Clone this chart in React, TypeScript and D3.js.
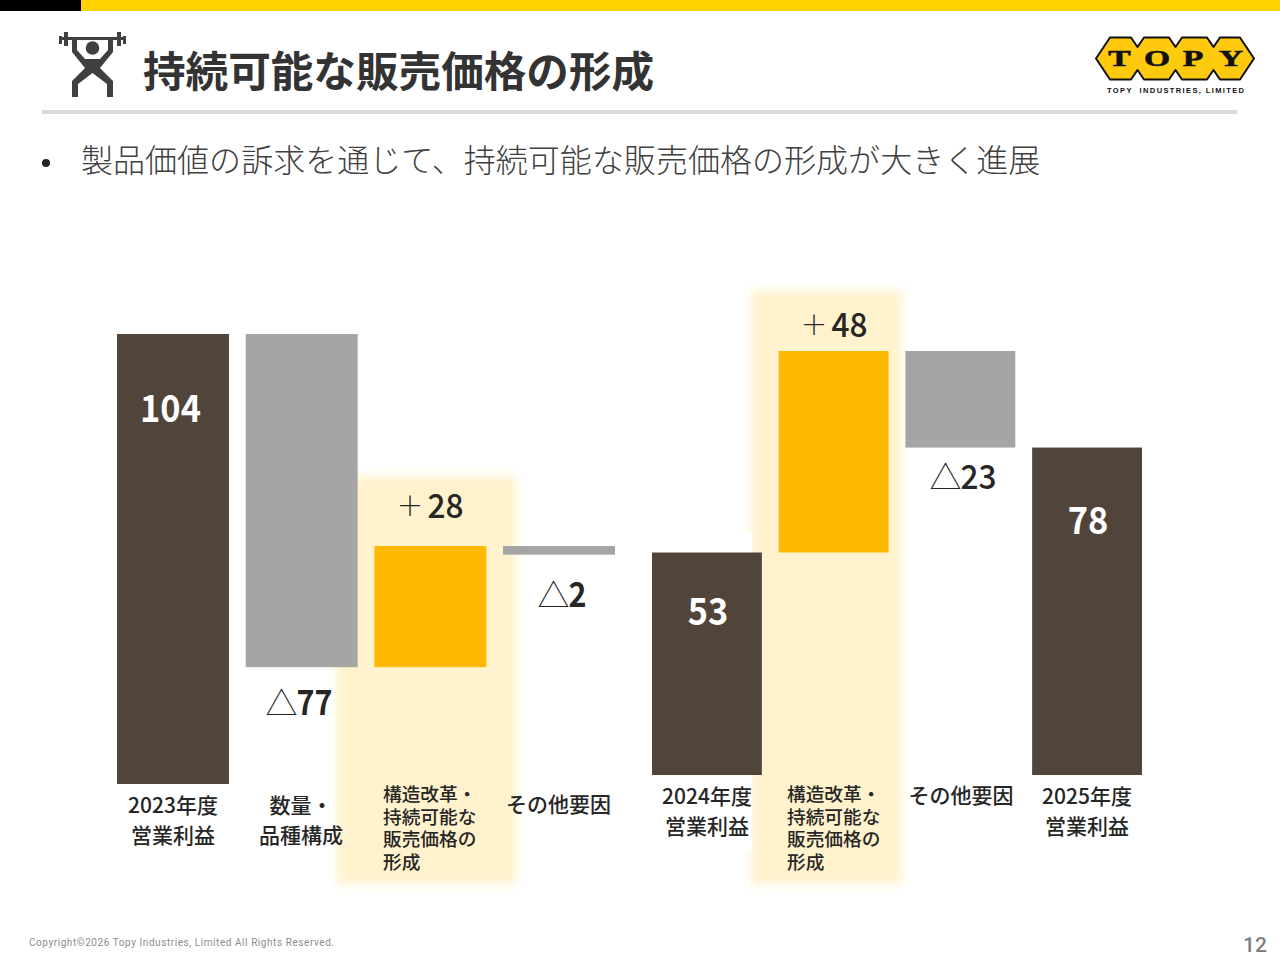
import React from "react";
import * as d3 from "d3";

const leftCategories = ["2023", "volume", "reform23", "other23"];
const leftLabels = [["2023年度", "営業利益"], ["数量・", "品種構成"], ["構造改革・", "持続可能な", "販売価格の", "形成"], ["その他要因"]];
const leftStart = [0, 104, 27, 55];
const leftEnd = [104, 27, 55, 53];
const leftValueText = ["104", "△77", "＋28", "△2"];
const leftKind = ["total", "down", "up", "down"];

const rightCategories = ["2024", "reform24", "other24", "2025"];
const rightLabels = [["2024年度", "営業利益"], ["構造改革・", "持続可能な", "販売価格の", "形成"], ["その他要因"], ["2025年度", "営業利益"]];
const rightStart = [0, 53, 101, 0];
const rightEnd = [53, 101, 78, 78];
const rightValueText = ["53", "＋48", "△23", "78"];
const rightKind = ["total", "up", "down", "total"];

const colors: Record<string, string> = { total: "#51443A", down: "#A5A5A5", up: "#FFB900" };
const JP = "'Noto Sans CJK JP', 'Noto Sans', sans-serif";
const INK = "#262626";

function Value({ text, cx, y, fill, weight = 700 }: { text: string; cx: number; y: number; fill: string; weight?: number }) {
  const white = fill === "#fff";
  const sym = text[0] === "△" || text[0] === "＋";
  const digits = sym ? text.slice(1) : text;
  const dw = digits.length * (white ? 20.3 : 18);
  const sw = sym ? 31 : 0;
  const x0 = cx - (dw + sw) / 2;
  const size = white ? 38 : 34;
  const plus = text[0] === "＋";
  return (
    <g>
      {sym && <text x={x0} y={plus ? y - 2 : y} fontFamily={JP} fontSize={plus ? 27 : 32} fontWeight={300} fill={INK}>{text[0]}</text>}
      <text x={x0 + sw} y={y} fontFamily={JP} fontSize={size} fontWeight={weight} fill={fill}
        textLength={dw} lengthAdjust="spacingAndGlyphs">{digits}</text>
    </g>
  );
}

function Label({ lines, cx, x, y, step, size }: { lines: string[]; cx?: number; x?: number; y: number; step: number; size: number }) {
  return (
    <g>
      {lines.map((l, i) => (
        <text key={i} x={cx ?? x} y={y + i * step} textAnchor={cx !== undefined ? "middle" : "start"}
          fontFamily={JP} fontSize={size} fontWeight={500} fill={INK}>{l}</text>
      ))}
    </g>
  );
}

export default function App() {
  const xL = d3.scaleBand<string>().domain(leftCategories).range([117, 615]).paddingInner(0.13).paddingOuter(0);
  const yL = d3.scaleLinear().domain([0, 104]).range([784, 334]);
  const xR = d3.scaleBand<string>().domain(rightCategories).range([652, 1142]).paddingInner(0.133).paddingOuter(0);
  const yR = d3.scaleLinear().domain([0, 101]).range([775, 351]);

  const bars = (cats: string[], start: number[], end: number[], kind: string[], x: any, y: any, w: number) =>
    cats.map((c, i) => (
      <rect key={c} x={x(c)} width={w}
        y={y(Math.max(start[i], end[i]))}
        height={Math.abs(y(start[i]) - y(end[i]))}
        fill={colors[kind[i]]} />
    ));

  const flats = [[1110, 1131], [1144, 1169], [1182, 1207], [1220, 1240]];
  const notches = [1137.5, 1175.5, 1213.5];
  const hexPts = (() => {
    const top: string[] = ["1096,58.5"];
    const bot: string[] = ["1254,58.5"];
    flats.forEach((f, i) => {
      top.push(`${f[0]},37.5`, `${f[1]},37.5`);
      if (i < 3) top.push(`${notches[i]},47`);
    });
    [...flats].reverse().forEach((f, i) => {
      bot.push(`${f[1]},79.5`, `${f[0]},79.5`);
      if (i < 3) bot.push(`${notches[2 - i]},70`);
    });
    return [...top, ...bot].join(" ");
  })();
  const logoLetters = [["T", 1119.5], ["O", 1157], ["P", 1193], ["Y", 1231]] as [string, number][];

  return (
    <svg width={1280} height={960} viewBox="0 0 1280 960" style={{ position: "absolute", left: 0, top: 0, background: "#fff" }}>
      <defs>
        <filter id="soft" x="-20%" y="-10%" width="140%" height="120%">
          <feGaussianBlur stdDeviation="5" />
        </filter>
      </defs>

      <rect x={0} y={0} width={1280} height={11} fill="#FFD200" />
      <rect x={0} y={0} width={81} height={11} fill="#000" />

      <g fill="#404040" stroke="none">
        <rect x={60} y={37} width={65} height={3} />
        <rect x={59} y={36} width={3} height={8} />
        <rect x={64} y={32} width={4} height={14} />
        <rect x={117} y={32} width={4} height={14} />
        <rect x={123} y={36} width={3} height={8} />
        <circle cx={92.5} cy={48} r={6.8} />
        <polygon points="72,40 77,40 77,50 85,59 100,59 108,50 108,40 113,40 113,52 100,68 113,81 113,97 107,97 107,84 92.5,73 78,84 78,97 72,97 72,81 85,68 72,52" />
      </g>

      <text x={143} y={87} fontFamily={JP} fontSize={42.6} fontWeight={700} fill="#333">持続可能な販売価格の形成</text>

      <polygon points={hexPts} fill="#FFC90E" stroke="#111" strokeWidth={2} strokeLinejoin="round" />
      {logoLetters.map(([t, cx]) => (
        <g key={t} transform={`translate(${cx},65.5) scale(1.4,1)`}>
          <text x={0} y={0} textAnchor="middle" fontFamily="'Liberation Serif', serif" fontWeight={700} fontSize={24}
            fill="#111" stroke="#111" strokeWidth={0.6}>{t}</text>
        </g>
      ))}
      <text x={1107} y={93} fontFamily="'Liberation Sans', sans-serif" fontWeight={700} fontSize={7.5} letterSpacing={1.38} fill="#111" xmlSpace="preserve">TOPY  INDUSTRIES, LIMITED</text>

      <rect x={42} y={110} width={1195} height={4} fill="#D9D9D9" />

      <circle cx={46} cy={163} r={4} fill="#262626" />
      <text x={81} y={172} fontFamily={JP} fontSize={32} fontWeight={300} fill="#404040" letterSpacing={0.03}>製品価値の訴求を通じて、持続可能な販売価格の形成が大きく進展</text>

      <g fill="#FFF2CC" filter="url(#soft)">
        <rect x={337} y={476} width={179} height={408} />
        <rect x={751} y={291} width={151} height={593} />
      </g>
      <rect x={700} y={533} width={52} height={317} fill="#fff" />

      {bars(leftCategories, leftStart, leftEnd, leftKind, xL, yL, xL.bandwidth())}
      {bars(rightCategories, rightStart, rightEnd, rightKind, xR, yR, xR.bandwidth())}

      <Value text={leftValueText[0]} cx={170.5} y={422} fill="#fff" />
      <Value text={leftValueText[1]} cx={299} y={715} fill={INK} />
      <Value text={leftValueText[2]} cx={430} y={518} fill={INK} weight={500} />
      <Value text={leftValueText[3]} cx={562} y={607} fill={INK} />
      <Value text={rightValueText[0]} cx={708} y={625} fill="#fff" />
      <Value text={rightValueText[1]} cx={834} y={337} fill={INK} weight={500} />
      <Value text={rightValueText[2]} cx={963} y={489} fill={INK} weight={500} />
      <Value text={rightValueText[3]} cx={1088} y={534} fill="#fff" />

      <Label lines={leftLabels[0]} cx={173} y={813} step={30} size={21} />
      <Label lines={leftLabels[1]} cx={301} y={813} step={30} size={21} />
      <Label lines={leftLabels[2]} x={383} y={801} step={22.5} size={18.7} />
      <Label lines={leftLabels[3]} cx={558.5} y={812} step={30} size={21} />
      <Label lines={rightLabels[0]} cx={707} y={804} step={30} size={21} />
      <Label lines={rightLabels[1]} x={787} y={801} step={22.5} size={18.7} />
      <Label lines={rightLabels[2]} cx={961} y={803} step={30} size={21} />
      <Label lines={rightLabels[3]} cx={1087} y={804} step={30} size={21} />

      <text x={29} y={946} fontFamily="'Roboto', sans-serif" fontSize={10} fill="#8c8c8c" textLength={305} lengthAdjust="spacing">Copyright©2026 Topy Industries, Limited All Rights Reserved.</text>
      <text x={1255} y={952} textAnchor="middle" fontFamily="'Roboto', sans-serif" fontSize={21} fontWeight={500} fill="#7f7f7f">12</text>
    </svg>
  );
}
